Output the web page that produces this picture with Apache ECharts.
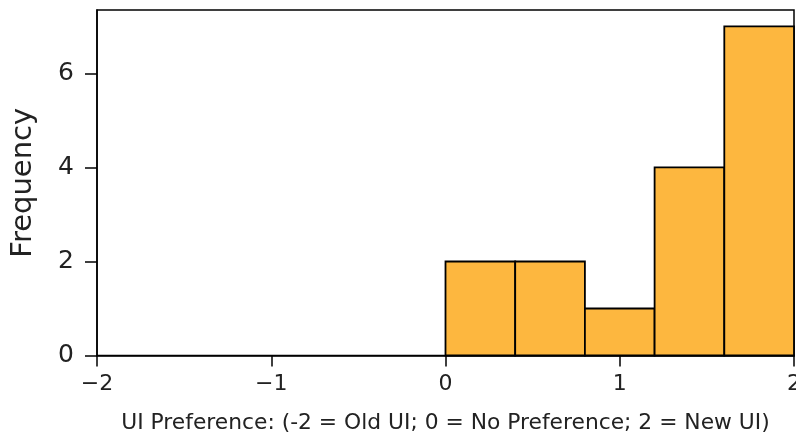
<!DOCTYPE html>
<html>
<head>
<meta charset="utf-8">
<script src="https://cdn.jsdelivr.net/npm/echarts@6/dist/echarts.min.js"></script>
<style>
  html, body { margin: 0; padding: 0; background: #fff; }
  #chart { width: 796px; height: 435px; }
</style>
</head>
<body>
<div id="chart"></div>
<script>
// Histogram of UI preference scores
const binStarts = [0.0, 0.4, 0.8, 1.2, 1.6];
const binEnds   = [0.4, 0.8, 1.2, 1.6, 2.0];
const counts    = [2, 2, 1, 4, 7];
const xTicks    = [-2, -1, 0, 1, 2];
const yTicks    = [0, 2, 4, 6];

const FONT = '"DejaVu Sans", sans-serif';
const fmtNum = v => (v < 0 ? '\u2212' + Math.abs(v) : String(v));

const bars = counts.map((c, i) => [binStarts[i], binEnds[i], c]);

const chart = echarts.init(document.getElementById('chart'), null, { renderer: 'canvas' });
chart.setOption({
  animation: false,
  backgroundColor: '#ffffff',
  grid: {
    left: 97, top: 10, right: 2, bottom: 79.5,
    outerBoundsMode: 'none',
    containLabel: false,
    show: true, borderColor: '#000', borderWidth: 1.5, backgroundColor: 'transparent'
  },
  xAxis: {
    type: 'value',
    min: xTicks[0], max: xTicks[xTicks.length - 1], interval: 1,
    name: 'UI Preference: (-2 = Old UI; 0 = No Preference; 2 = New UI)',
    nameLocation: 'middle', nameGap: 57,
    nameTextStyle: { fontFamily: FONT, fontSize: 21.8, color: '#222' },
    axisLine: { show: true, onZero: false, lineStyle: { color: '#000', width: 1.5 } },
    axisTick: { show: true, inside: false, length: 11, customValues: xTicks, lineStyle: { color: '#000', width: 1.5 } },
    axisLabel: { fontFamily: FONT, fontSize: 22, color: '#222', margin: 18, customValues: xTicks, formatter: fmtNum },
    splitLine: { show: false }
  },
  yAxis: {
    type: 'value',
    min: 0, max: 7.35, interval: 2,
    name: 'Frequency',
    nameLocation: 'middle', nameGap: 59, nameRotate: 90,
    nameTextStyle: { fontFamily: FONT, fontSize: 29, color: '#222' },
    axisLine: { show: true, onZero: false, lineStyle: { color: '#000', width: 1.5 } },
    axisTick: { show: true, inside: false, length: 12, customValues: yTicks, lineStyle: { color: '#000', width: 1.5 } },
    axisLabel: {
      fontFamily: FONT, fontSize: 25, color: '#222', margin: 23, customValues: yTicks,
      formatter: v => String(v)
    },
    splitLine: { show: false }
  },
  series: [{
    type: 'custom',
    data: bars,
    encode: { x: [0, 1], y: 2 },
    renderItem: function (params, api) {
      const p0 = api.coord([api.value(0), 0]);
      const p1 = api.coord([api.value(1), api.value(2)]);
      return {
        type: 'rect',
        shape: { x: p0[0], y: p1[1], width: p1[0] - p0[0], height: p0[1] - p1[1] },
        style: { fill: '#FDB73F', stroke: '#000', lineWidth: 1.8 }
      };
    }
  }]
});
</script>
</body>
</html>
